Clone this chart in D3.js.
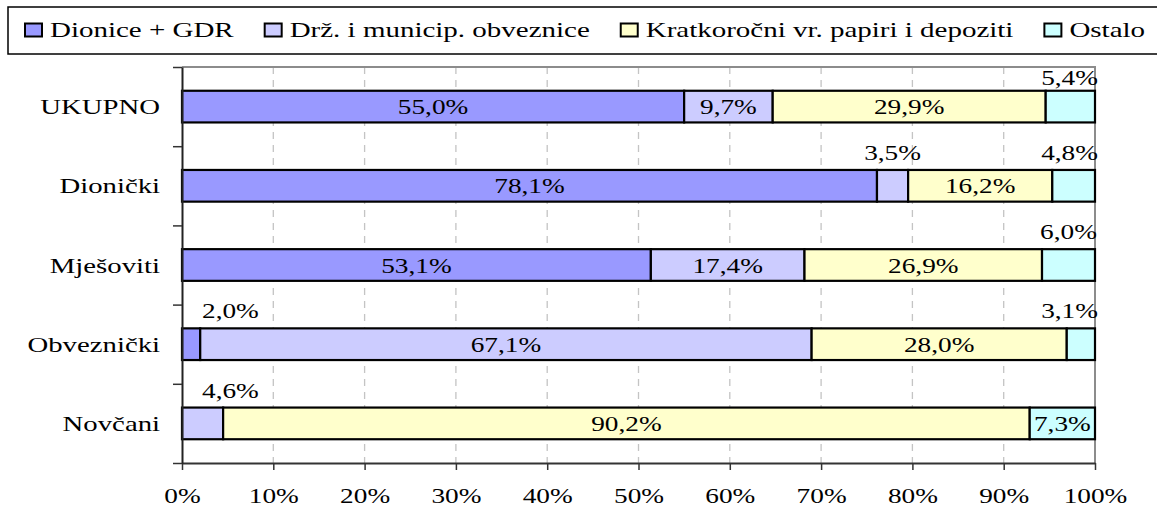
<!DOCTYPE html>
<html>
<head>
<meta charset="utf-8">
<script src="https://cdn.jsdelivr.net/npm/d3@7"></script>
<style>
  body { margin: 0; background: #fff; }
  svg text { font-family: "Liberation Serif", "Times New Roman", serif; fill: #000; }
</style>
</head>
<body>
<div id="chart"></div>
<script>
'use strict'

////////////////////////////////////
//////////////// data //////////////
////////////////////////////////////

const categories = ['UKUPNO', 'Dionički', 'Mješoviti', 'Obveznički', 'Novčani']
const seriesNames = ['Dionice + GDR', 'Drž. i municip. obveznice', 'Kratkoročni vr. papiri i depoziti', 'Ostalo']
const dionice = [55.0, 78.1, 53.1, 2.0, 0]
const obveznice = [9.7, 3.5, 17.4, 67.1, 4.6]
const kratkorocni = [29.9, 16.2, 26.9, 28.0, 90.2]
const ostalo = [5.4, 4.8, 6.0, 3.1, 7.3]
const xTicks = [0, 10, 20, 30, 40, 50, 60, 70, 80, 90, 100]

const colors = ['#9999ff', '#ccccff', '#ffffcc', '#ccffff']

////////////////////////////////////
//////////// svg setup /////////////
////////////////////////////////////

const svgWidth = 1157
const svgHeight = 506
const margin = { left: 182, right: 62, top: 67, bottom: 43 }
const width = svgWidth - margin.left - margin.right
const height = svgHeight - margin.top - margin.bottom

const fontSize = 21
const sx = 1.3       // the reference text is stretched horizontally
const catSx = 1.37
const legendSx = 1.38

const root = d3.select('#chart').append('svg')
    .attr('width', svgWidth)
    .attr('height', svgHeight)

const svg = root.append('g')
    .attr('transform', `translate(${margin.left},${margin.top})`)

////////////////////////////////////
////////// data wrangling //////////
////////////////////////////////////

const keys = ['d', 'o', 'k', 'r']
const rows = categories.map((c, i) => ({
    cat: c, d: dionice[i], o: obveznice[i], k: kratkorocni[i], r: ostalo[i]
}))
const stacked = d3.stack().keys(keys).offset(d3.stackOffsetExpand)(rows)

const fmt = d3.formatLocale({ decimal: ',', thousands: '.', grouping: [3], currency: ['', ''] }).format('.1f')

////////////////////////////////////
////////////// scales //////////////
////////////////////////////////////

const x = d3.scaleLinear().domain([0, 1]).range([0, width])
const y = d3.scaleBand().domain(categories).range([0, height]).paddingInner(0.6).paddingOuter(0.3)
const yEdge = d3.scaleLinear().domain([0, categories.length]).range([0, height])

////////////////////////////////////
/////////////// grid ///////////////
////////////////////////////////////

svg.append('g')
    .selectAll('line')
    .data(xTicks.filter(t => t > 0 && t < 100))
    .join('line')
    .attr('x1', d => x(d / 100)).attr('x2', d => x(d / 100))
    .attr('y1', 0).attr('y2', height)
    .attr('stroke', '#c4c4c4')
    .attr('stroke-width', 1.3)
    .attr('stroke-dasharray', '7,6')

// plot frame (top & right)
svg.append('path')
    .attr('d', `M0,0H${x(1)}V${height}`)
    .attr('fill', 'none')
    .attr('stroke', '#8c8c8c')
    .attr('stroke-width', 2)

////////////////////////////////////
/////////////// bars ///////////////
////////////////////////////////////

const segs = []
stacked.forEach((s, si) => {
    s.forEach((d, ci) => {
        const raw = d.data[keys[si]]
        if (raw > 0) segs.push({ si, ci, x0: d[0], x1: d[1], raw, cat: d.data.cat })
    })
})

svg.append('g')
    .selectAll('rect')
    .data(segs)
    .join('rect')
    .attr('x', d => x(d.x0))
    .attr('y', d => y(d.cat))
    .attr('width', d => x(d.x1) - x(d.x0))
    .attr('height', y.bandwidth())
    .attr('fill', d => colors[d.si])
    .attr('stroke', '#000')
    .attr('stroke-width', 2.2)

////////////////////////////////////
/////////////// axis ///////////////
////////////////////////////////////

const xAxis = svg.append('g')
    .attr('transform', `translate(0,${height})`)
    .call(d3.axisBottom(x).tickValues(xTicks.map(t => t / 100)).tickFormat(d => Math.round(d * 100) + '%')
        .tickSize(7).tickSizeOuter(0).tickPadding(18))
xAxis.select('.domain').attr('stroke', '#333').attr('stroke-width', 2)
xAxis.selectAll('.tick line').attr('stroke', '#333').attr('stroke-width', 1.5)
xAxis.selectAll('.tick text')
    .attr('font-size', fontSize)
    .attr('font-family', null)
    .attr('transform', `scale(${sx},1)`)

const yTicks = svg.append('g')
    .call(d3.axisLeft(yEdge).tickValues(d3.range(categories.length + 1)).tickFormat('').tickSize(9).tickSizeOuter(0))
yTicks.select('.domain').attr('stroke', '#222').attr('stroke-width', 2)
yTicks.selectAll('.tick line').attr('stroke', '#333').attr('stroke-width', 1.5)

const yAxis = svg.append('g')
    .call(d3.axisLeft(y).tickSize(0).tickPadding(22 / catSx))
yAxis.select('.domain').remove()
yAxis.selectAll('.tick text')
    .attr('font-size', fontSize)
    .attr('font-family', null)
    .attr('dy', '0.36em')
    .attr('transform', `scale(${catSx},1)`)

////////////////////////////////////
////////////// labels //////////////
////////////////////////////////////

const labels = svg.append('g')
segs.forEach(d => {
    const t = labels.append('text')
        .attr('font-size', fontSize)
        .attr('text-anchor', 'middle')
        .text(fmt(d.raw) + '%')
    const tw = t.node().getComputedTextLength() * sx
    const segW = x(d.x1) - x(d.x0)
    let cx = (x(d.x0) + x(d.x1)) / 2
    let cy
    if (segW >= tw + 2) {
        cy = y(d.cat) + y.bandwidth() / 2 + fontSize * 0.36
    } else {
        // too narrow: put the label above the bar
        if (cx - tw / 2 < 20) cx = 20 + tw / 2
        if (cx + tw / 2 > width + 3) cx = width + 3 - tw / 2
        cy = Math.max(y(d.cat) - 10, 18)
    }
    t.attr('transform', `translate(${cx},${cy}) scale(${sx},1)`)
})

////////////////////////////////////
////////////// legend //////////////
////////////////////////////////////

const legend = root.append('g')
legend.append('rect')
    .attr('x', 8).attr('y', 7)
    .attr('width', 1170).attr('height', 47)
    .attr('fill', '#fff')
    .attr('stroke', '#000')
    .attr('stroke-width', 1.5)

let lx = 25
seriesNames.forEach((name, i) => {
    legend.append('rect')
        .attr('x', lx).attr('y', 23.5)
        .attr('width', 17).attr('height', 13)
        .attr('fill', colors[i])
        .attr('stroke', '#000')
        .attr('stroke-width', 2)
    const t = legend.append('text')
        .attr('font-size', fontSize)
        .attr('transform', `translate(${lx + 25},37) scale(${legendSx},1)`)
        .text(name)
    lx += 25 + t.node().getComputedTextLength() * legendSx + 31
})
</script>
</body>
</html>
